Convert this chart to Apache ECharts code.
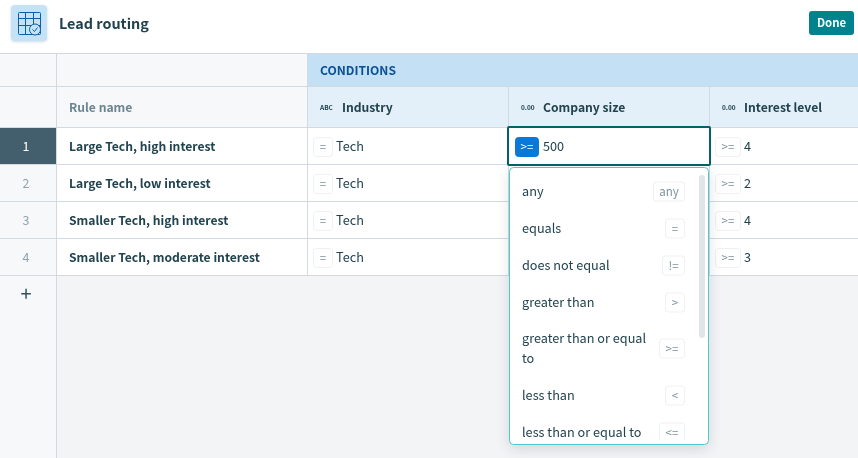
<!DOCTYPE html>
<html>
<head>
<meta charset="utf-8" />
<title>Lead routing</title>
<script src="https://cdn.jsdelivr.net/npm/echarts@6/dist/echarts.min.js"></script>
<style>
  html, body { margin: 0; padding: 0; background: #fff; overflow: hidden; }
  #main { width: 858px; height: 458px; }
</style>
</head>
<body>
<div id="main"></div>
<script type="text/javascript">
var pageTitle = 'Lead routing';
var doneLabel = 'Done';
var groupLabel = 'CONDITIONS';
var firstColumn = 'Rule name';
var columnNames = ['Industry', 'Company size', 'Interest level'];
var columnTypes = ['ABC', '0.00', '0.00'];
var ruleNames = ['Large Tech, high interest', 'Large Tech, low interest', 'Smaller Tech, high interest', 'Smaller Tech, moderate interest'];
var industryOps = ['=', '=', '=', '='];
var industryValues = ['Tech', 'Tech', 'Tech', 'Tech'];
var sizeOp = '>=';
var sizeValue = '500';
var interestOps = ['>=', '>=', '>=', '>='];
var interestValues = ['4', '2', '4', '3'];
var menuLabels = [['any'], ['equals'], ['does not equal'], ['greater than'], ['greater than or equal', 'to'], ['less than'], ['less than or equal to']];
var menuBadges = ['any', '=', '!=', '>', '>=', '<', '<='];

var FONT = '"Noto Sans CJK SC", "Noto Sans", sans-serif';
var DARK = '#21434f';
var LINE = '#d2d9df';
var REG = 12.7;   // body text
var BOLD = 12.15; // bold cell text
var els = [];

function rect(x, y, w, h, fill, extra) {
    var style = { fill: fill };
    var r = 0;
    var e = extra || {};
    if (e.stroke) { style.stroke = e.stroke; style.lineWidth = e.lineWidth || 1; }
    if (e.shadowBlur) { style.shadowBlur = e.shadowBlur; style.shadowColor = e.shadowColor; style.shadowOffsetY = e.shadowOffsetY || 0; }
    if (e.r) { r = e.r; }
    els.push({ type: 'rect', shape: { x: x, y: y, width: w, height: h, r: r }, style: style, silent: true });
}
function line(x1, y1, x2, y2, color, width) {
    els.push({ type: 'line', shape: { x1: x1, y1: y1, x2: x2, y2: y2 }, style: { stroke: color || LINE, lineWidth: width || 1 }, silent: true });
}
function text(x, y, str, size, color, weight, align) {
    els.push({
        type: 'text', silent: true,
        style: { x: x, y: y + 0.5, text: str, fill: color, align: align || 'left', verticalAlign: 'middle',
                 font: (weight || 'normal') + ' ' + size + 'px ' + FONT }
    });
}
function badge(x, y, w, label, fill, color) {
    rect(x + 0.5, y + 0.5, w - 1, 19, fill || '#fff', { stroke: fill || '#eef1f3', r: 3 });
    text(x + w / 2, y + 9.5, label, 11.5, color || '#7d929b', 'normal', 'center');
}

// page background, gutter, empty area
rect(0, 54, 858, 404, '#f3f4f6');
rect(0, 54, 56, 404, '#f7f8fa');
rect(57, 54, 251, 73, '#f7f8fa');
rect(308, 54, 550, 33, '#c3e0f5');
rect(308, 87, 550, 40, '#e3f0f9');
rect(57, 128, 801, 147, '#fff');
rect(0, 128, 56, 36, '#435f6d');

// table lines
line(0, 53.5, 858, 53.5);
line(0, 86.5, 858, 86.5);
[127.5, 164.5, 201.5, 238.5, 275.5].forEach(function (y) { line(0, y, 858, y); });
line(56.5, 54, 56.5, 458);
line(307.5, 54, 307.5, 275);
line(508.5, 87, 508.5, 275);
line(709.5, 87, 709.5, 275);

// title bar
rect(11, 5, 36, 36, '#c5e2f7', { r: 4, shadowBlur: 3, shadowColor: 'rgba(40,80,110,0.2)', shadowOffsetY: 1 });
rect(18.5, 12.5, 22, 22, 'transparent', { stroke: '#0c5ea8', r: 1 });
line(18.5, 18.5, 40.5, 18.5, '#0c5ea8');
line(18.5, 25.5, 40.5, 25.5, '#0c5ea8');
line(25.5, 12.5, 25.5, 34.5, '#0c5ea8');
line(33.5, 12.5, 33.5, 25, '#0c5ea8');
els.push({ type: 'circle', silent: true, shape: { cx: 35, cy: 29.5, r: 5.5 }, style: { fill: '#c5e2f7', stroke: '#0c5ea8', lineWidth: 1 } });
els.push({ type: 'polyline', silent: true, shape: { points: [[32.5, 29.5], [34.5, 31.5], [37.5, 27.5]] }, style: { fill: 'none', stroke: '#0c5ea8', lineWidth: 1 } });
text(59, 23.5, pageTitle, 14.4, DARK, 'bold');
rect(809, 11, 45, 24, '#00838f', { r: 3 });
text(831.5, 22.5, doneLabel, 11.4, '#fff', 'bold', 'center');

// headers
text(320, 70, groupLabel, 12.1, '#0b4f94', 'bold');
text(69, 107, firstColumn, BOLD, '#6b8590', 'bold');
var headX = [308, 509, 710];
columnNames.forEach(function (name, i) {
    var x = headX[i];
    text(x + 12, 107, columnTypes[i], 6.5, DARK, 'bold');
    text(x + 34, 107, name, BOLD, DARK, 'bold');
});

// rows
ruleNames.forEach(function (name, i) {
    var cy = 146 + i * 37;
    text(26, cy, String(i + 1), 12.5, i === 0 ? '#fff' : '#8fa3ad', 'normal', 'center');
    text(69, cy, name, BOLD, DARK, 'bold');
    badge(313, cy - 9, 20, industryOps[i]);
    text(336, cy, industryValues[i], REG, DARK);
    badge(715, cy - 9, 26, interestOps[i]);
    text(744, cy, interestValues[i], REG, DARK);
});
text(26, 293, '+', 20, '#33525f', 'normal', 'center');

// selected cell
rect(508, 127, 202, 38, '#fff', { stroke: '#00626b', lineWidth: 2, r: 1 });
badge(515, 137, 24, sizeOp, '#0a78d6', '#fff');
text(543, 146, sizeValue, REG, DARK);

// dropdown
rect(509.5, 167.5, 199, 277, '#fff', { r: 4, shadowBlur: 14, shadowColor: 'rgba(30,50,70,0.16)', shadowOffsetY: 4 });
rect(699, 175, 6, 163, '#e0e5e8', { r: 3 });
var menuY = [191.5, 228.5, 265.5, 302.5, 348.5, 395.5, 432.5];
var badgeW = [32, 20, 23, 20, 26, 20, 26];
menuLabels.forEach(function (lines, i) {
    lines.forEach(function (str, k) {
        var y = lines.length > 1 ? menuY[i] - 10 + k * 20 : menuY[i];
        text(522, y - 1, str, REG, DARK);
    });
    badge(685 - badgeW[i], menuY[i] - 10, badgeW[i], menuBadges[i]);
});
rect(510, 440, 189, 4, '#fff');
rect(509.5, 167.5, 199, 277, 'transparent', { stroke: '#4fc9cf', r: 4 });

var myChart = echarts.init(document.getElementById('main'), null, { renderer: 'canvas' });
myChart.setOption({ animation: false, graphic: { elements: els } });
</script>
</body>
</html>
